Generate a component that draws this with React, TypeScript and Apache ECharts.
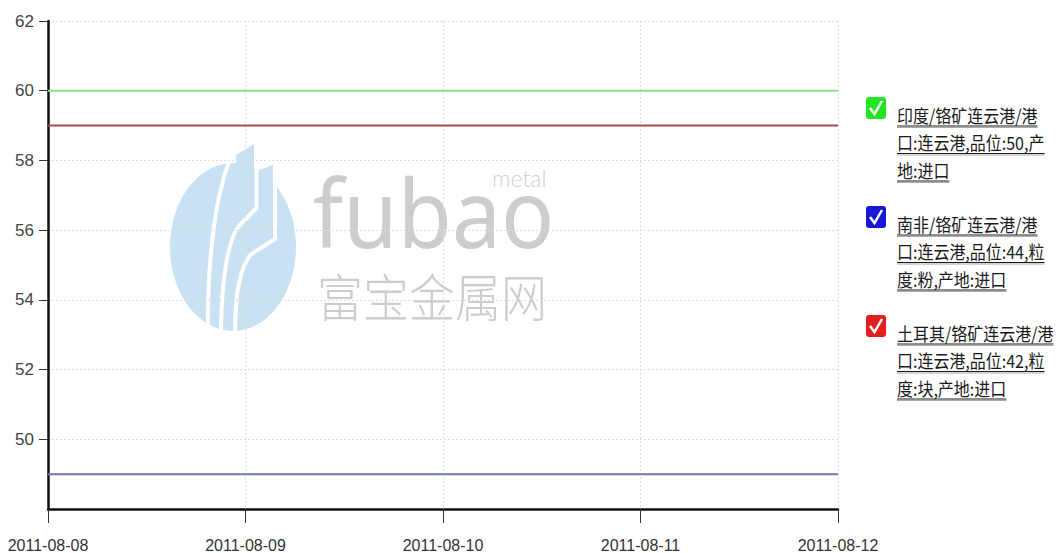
import React, { useEffect, useRef } from "react";
import * as echarts from "echarts";

const dates = ["2011-08-08", "2011-08-09", "2011-08-10", "2011-08-11", "2011-08-12"];
const indiaValues = [60, 60, 60, 60, 60];
const southAfricaValues = [49, 49, 49, 49, 49];
const turkeyValues = [59, 59, 59, 59, 59];
const yMin = 48;
const yMax = 62;
const yInterval = 2;

const indiaLines = ["印度/铬矿连云港/港", "口:连云港,品位:50,产", "地:进口"];
const southAfricaLines = ["南非/铬矿连云港/港", "口:连云港,品位:44,粒", "度:粉,产地:进口"];
const turkeyLines = ["土耳其/铬矿连云港/港", "口:连云港,品位:42,粒", "度:块,产地:进口"];

const lineColors = ["#8ae08a", "#6c78b0", "#a44c4c"];
const boxColors = ["#22e622", "#1717d6", "#e41e1e"];

const AXIS_FONT = "'Liberation Sans', Arial, sans-serif";
const CJK_FONT = "'Noto Sans CJK SC', sans-serif";

function measure(text: string, font: string): number {
  const ctx = document.createElement("canvas").getContext("2d");
  if (!ctx) return text.length * 14;
  ctx.font = font;
  return ctx.measureText(text).width;
}

export default function App() {
  const ref = useRef<HTMLDivElement>(null);
  useEffect(() => {
    if (!ref.current) return;
    const chart = echarts.init(ref.current, undefined, { renderer: "svg" });

    const legendGroups = [
      { lines: indiaLines, values: indiaValues },
      { lines: southAfricaLines, values: southAfricaValues },
      { lines: turkeyLines, values: turkeyValues },
    ];
    const names = legendGroups.map((g) => g.lines.join(""));

    const graphics: any[] = [];
    // watermark logo
    const wz = -5;
    const blue = "#c8e2f3";
    graphics.push({ type: "ellipse", z: wz, shape: { cx: 233, cy: 247, rx: 63, ry: 84 }, style: { fill: blue }, silent: true });
    graphics.push({ type: "polygon", z: wz, shape: { points: [[236, 155], [254, 144], [254, 232], [236, 232]] }, style: { fill: blue }, silent: true });
    graphics.push({ type: "polygon", z: wz, shape: { points: [[259, 170], [273, 165], [273, 240], [259, 240]] }, style: { fill: blue }, silent: true });
    const white = { stroke: "#ffffff", lineWidth: 4, fill: null };
    graphics.push({ type: "bezierCurve", z: wz + 1, shape: { x1: 234, y1: 150, cpx1: 215, cpy1: 190, cpx2: 207, cpy2: 260, x2: 208, y2: 336 }, style: white, silent: true });
    graphics.push({ type: "polyline", z: wz + 1, shape: { points: [[256.5, 143], [256.5, 208], [238, 227]] }, style: white, silent: true });
    graphics.push({ type: "bezierCurve", z: wz + 1, shape: { x1: 238, y1: 227, cpx1: 226, cpy1: 245, cpx2: 221, cpy2: 290, x2: 221, y2: 336 }, style: white, silent: true });
    graphics.push({ type: "polyline", z: wz + 1, shape: { points: [[275, 160], [275, 239], [250, 255]] }, style: white, silent: true });
    graphics.push({ type: "bezierCurve", z: wz + 1, shape: { x1: 250, y1: 255, cpx1: 238, cpy1: 272, cpx2: 235, cpy2: 300, x2: 235, y2: 336 }, style: white, silent: true });
    graphics.push({ type: "text", z: wz, x: 313, y: 164, scaleY: 1.08, silent: true, style: { text: "fubao", font: "88px 'Noto Sans', sans-serif", fill: "#cdcdcd", verticalAlign: "top" } });
    graphics.push({ type: "text", z: wz, x: 492, y: 178, silent: true, style: { text: "metal", font: "300 23px Lato, sans-serif", fill: "#d0d0d0", verticalAlign: "middle" } });
    graphics.push({ type: "text", z: wz, x: 317, y: 294, scaleY: 1.12, silent: true, style: { text: "富宝金属网", font: "300 46px 'Noto Sans CJK SC', sans-serif", fill: "#cdcdcd", verticalAlign: "middle" } });

    // legend
    const legendX = 866;
    const textX = 897;
    const firstTop = 115;
    const itemGap = 109;
    const lineGap = 27.5;
    const fontSpec = "16px " + CJK_FONT;
    legendGroups.forEach((g, i) => {
      const cy = firstTop + i * itemGap;
      const by = cy - 18;
      graphics.push({ type: "rect", shape: { x: legendX, y: by, width: 20, height: 22, r: 3 }, style: { fill: boxColors[i] } });
      graphics.push({ type: "polyline", shape: { points: [[legendX + 4, by + 11], [legendX + 8.5, by + 17], [legendX + 16, by + 4]] }, style: { stroke: "#ffffff", lineWidth: 2.5, fill: null } });
      g.lines.forEach((ln, j) => {
        const y = cy + j * lineGap;
        const w = measure(ln, fontSpec);
        graphics.push({
          type: "text",
          x: textX,
          y: y,
          scaleY: 1.12,
          style: {
            text: ln,
            font: fontSpec,
            fill: "#1a1a1a",
            verticalAlign: "middle",
            shadowColor: "rgba(0,0,0,0.25)",
            shadowOffsetX: 1,
            shadowOffsetY: 1.5,
            shadowBlur: 1.5,
          },
        });
        graphics.push({ type: "line", shape: { x1: textX, y1: y + 12.5, x2: textX + w, y2: y + 12.5 }, style: { stroke: "#aaaaaa", lineWidth: 1.2 } });
        graphics.push({ type: "line", shape: { x1: textX, y1: y + 11, x2: textX + w, y2: y + 11 }, style: { stroke: "#1a1a1a", lineWidth: 1 } });
      });
    });

    chart.setOption({
      animation: false,
      backgroundColor: "#ffffff",
      grid: { left: 48, right: 222, top: 21, bottom: 44, containLabel: false, outerBoundsMode: "none" },
      xAxis: {
        type: "category",
        data: dates,
        boundaryGap: false,
        axisLine: { show: true, lineStyle: { color: "#111111", width: 2.5 } },
        axisTick: { show: true, length: 14, lineStyle: { color: "#333333", width: 1 } },
        axisLabel: { margin: 28, color: "#333333", fontSize: 16, fontFamily: AXIS_FONT },
        splitLine: { show: true, lineStyle: { color: "#dddddd", type: [2, 2], width: 1 } },
      },
      yAxis: {
        type: "value",
        min: yMin,
        max: yMax,
        interval: yInterval,
        axisLine: { show: true, lineStyle: { color: "#111111", width: 2.5 } },
        axisTick: { show: true, length: 9, lineStyle: { color: "#333333", width: 1 } },
        axisLabel: { margin: 14, color: "#444444", fontSize: 17, fontFamily: AXIS_FONT, showMinLabel: false },
        splitLine: { show: true, lineStyle: { color: "#dddddd", type: [2, 2], width: 1 } },
      },
      series: legendGroups.map((g, i) => ({
        name: names[i],
        type: "line",
        data: g.values,
        showSymbol: false,
        symbol: "none",
        lineStyle: { color: lineColors[i], width: 2 },
        itemStyle: { color: lineColors[i] },
        z: 3,
      })),
      graphic: { elements: graphics },
    });
    return () => chart.dispose();
  }, []);
  return <div ref={ref} style={{ position: "absolute", left: 0, top: 0, width: 1060, height: 553 }} />;
}
